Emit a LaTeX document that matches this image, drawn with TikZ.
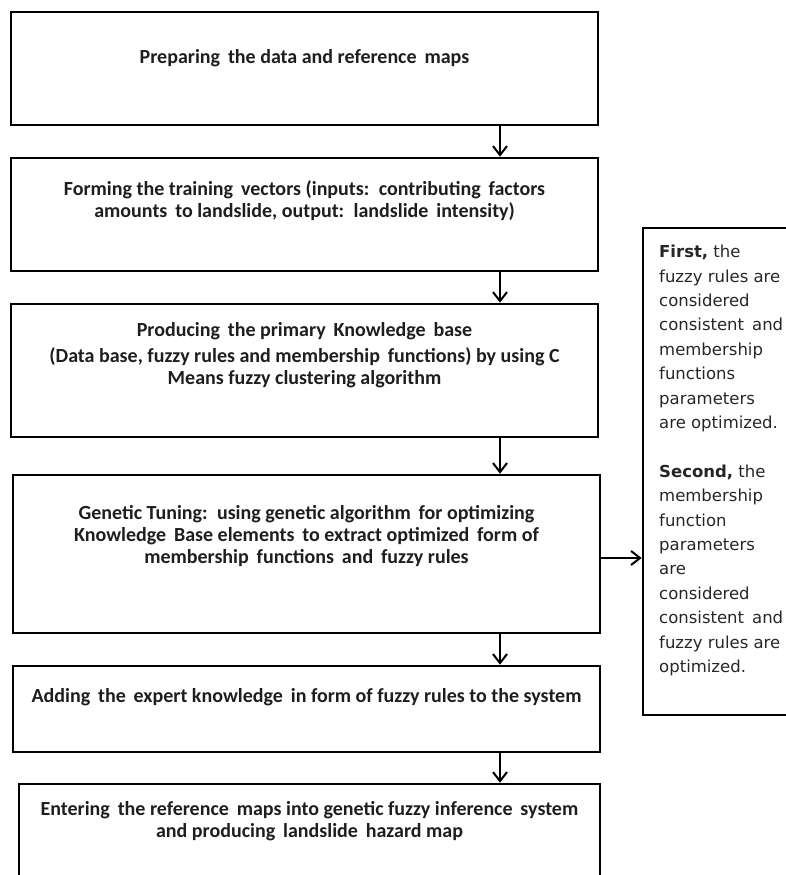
\documentclass[tikz,border=0pt]{standalone}
\usepackage{fontspec}
\setmainfont{Carlito}
\newfontfamily\sidefont{DejaVu Sans}
\usetikzlibrary{arrows.meta}
\definecolor{txtcol}{HTML}{1E1E1E}
\definecolor{sidecol}{HTML}{262626}
\begin{document}
\begin{tikzpicture}[x=1pt,y=-1pt,
  box/.style={draw=black, line width=2.6pt, rectangle, inner sep=0pt},
  maintxt/.style={font=\bfseries\fontsize{20}{22}\selectfont, align=center, text=txtcol, inner sep=0pt},
  sidetxt/.style={font=\sidefont\fontsize{16.5}{24.4}\selectfont, align=left, text=sidecol, inner sep=0pt},
  arr/.style={draw=black, line width=2pt, -{Straight Barb[length=9pt,width=14pt]}}]
\useasboundingbox (0,0) rectangle (786,875);
% boxes
\node[box, minimum width=587pt, minimum height=113pt] (b1) at (304.5,68.5) {};
\node[box, minimum width=587pt, minimum height=113pt] (b2) at (304.5,214.5) {};
\node[box, minimum width=587pt, minimum height=133pt] (b3) at (304.5,370.5) {};
\node[box, minimum width=587pt, minimum height=158pt] (b4) at (306.5,554) {};
\node[box, minimum width=587pt, minimum height=86pt] (b5) at (306.5,709) {};
\node[box, minimum width=581pt, minimum height=116pt] (b6) at (309.5,842) {};
\node[box, minimum width=147pt, minimum height=487pt] (side) at (716.5,471.5) {};
% texts
\node[maintxt] (t1) at (304.5,58) {Preparing\, the data and reference\, maps};
\node[maintxt] (t2) at (304.5,200.5) {Forming the training\, vectors (inputs:\, contributing\, factors\\amounts\, to landslide, output:\, landslide\, intensity)};
\node[maintxt] (t3) at (304.5,355) {Producing\, the primary\, Knowledge\, base\\[4pt](Data base, fuzzy rules and membership\, functions) by using C\\Means fuzzy clustering algorithm};
\node[maintxt] (t4) at (306.5,536.5) {Genetic Tuning:\, using genetic algorithm\, for optimizing\\Knowledge\, Base elements\, to extract optimized\, form of\\membership\, functions\, and\, fuzzy rules};
\node[maintxt] (t5) at (306.5,697) {Adding\, the\, expert knowledge\, in form of fuzzy rules to the system};
\node[maintxt] (t6) at (309.5,821) {Entering\, the reference\, maps into genetic fuzzy inference\, system\\and producing\, landslide\, hazard map};
\node[sidetxt, anchor=north west] (ts) at (659,245) {\textbf{First,} the\\fuzzy rules are\\considered\\consistent\, and\\membership\\functions\\parameters\\are optimized.\\[24.4pt]\textbf{Second,} the\\membership\\function\\parameters\\are\\considered\\consistent\, and\\fuzzy rules are\\optimized.};
% connectors
\coordinate (ax) at (500,0);
\draw[arr] (b1.south -| ax) -- (b2.north -| ax);
\draw[arr] (b2.south -| ax) -- (b3.north -| ax);
\draw[arr] (b3.south -| ax) -- (b4.north -| ax);
\draw[arr] (b4.south -| ax) -- (b5.north -| ax);
\draw[arr] (b5.south -| ax) -- (b6.north -| ax);
\draw[arr] ([yshift=-4pt]b4.east) -- ([yshift=-4pt]b4.east -| side.west);
\end{tikzpicture}
\end{document}
